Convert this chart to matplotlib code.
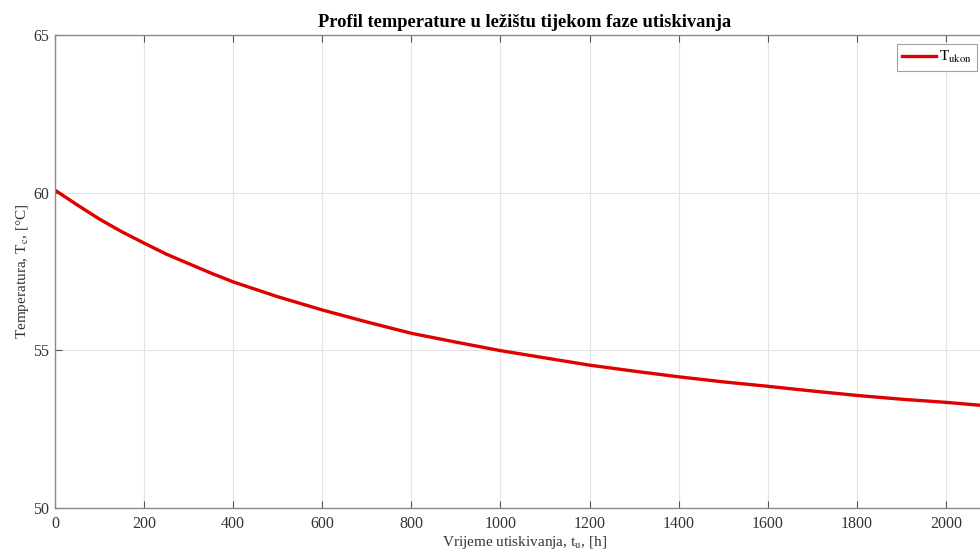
import matplotlib
matplotlib.use("Agg")
from matplotlib import pyplot as plt

plt.rcParams["font.family"] = ["Liberation Serif", "DejaVu Serif"]
plt.rcParams["mathtext.fontset"] = "stix"

# vrijeme utiskivanja [h] i temperatura [°C], ocitano s grafa
t_u = [0, 50, 100, 150, 200, 250, 300, 350, 400, 500, 600, 700, 800, 900, 1000,
       1100, 1200, 1300, 1400, 1500, 1600, 1700, 1800, 1900, 2000, 2100]
T_ukon = [60.08, 59.61, 59.16, 58.76, 58.40, 58.05, 57.75, 57.45, 57.17, 56.70, 56.28,
          55.90, 55.54, 55.26, 54.99, 54.76, 54.53, 54.34, 54.16, 54.00, 53.86,
          53.71, 53.57, 53.45, 53.35, 53.23]

x_ticks = [0, 200, 400, 600, 800, 1000, 1200, 1400, 1600, 1800, 2000]
y_ticks = [50, 55, 60, 65]

fig = plt.figure(figsize=(9.8, 5.55), dpi=100)
ax = fig.add_axes([55 / 980, 47 / 555, 940 / 980, 473 / 555])

ax.plot(t_u, T_ukon, color="#e00000", linewidth=2.4, label=r"T$_{\mathrm{ukon}}$")

ax.set_xlim(0, 2110)
ax.set_ylim(50, 65)
ax.set_xticks(x_ticks)
ax.set_yticks(y_ticks)
ax.grid(True, color="#e3e3e3", linewidth=0.8)
ax.set_axisbelow(True)
for s in ax.spines.values():
    s.set_color("#8a8a8a")
    s.set_linewidth(1.0)
ax.tick_params(direction="in", length=5, color="#555555", labelsize=11.5,
               labelcolor="#333333", top=True, right=True)
ax.tick_params(axis="x", pad=6)
ax.tick_params(axis="y", pad=4)

ax.set_title("Profil temperature u ležištu tijekom faze utiskivanja",
             fontsize=13.3, fontweight="bold", pad=6)
ax.set_xlabel(r"Vrijeme utiskivanja, t$_{\mathrm{u}}$, [h]", fontsize=11, color="#333333", labelpad=1)
ax.set_ylabel(r"Temperatura, T$_{\mathrm{c}}$, [°C]", fontsize=11, color="#333333", labelpad=2)

leg = ax.legend(loc="upper right", bbox_to_anchor=(977 / 980, 1 - 44 / 555),
                bbox_transform=fig.transFigure, fontsize=11, fancybox=False,
                handlelength=2.2, borderpad=0.35, handletextpad=0.2, borderaxespad=0)
leg.get_frame().set_edgecolor("#8a8a8a")
leg.get_frame().set_linewidth(0.8)

fig.savefig("out.png", dpi=100)
